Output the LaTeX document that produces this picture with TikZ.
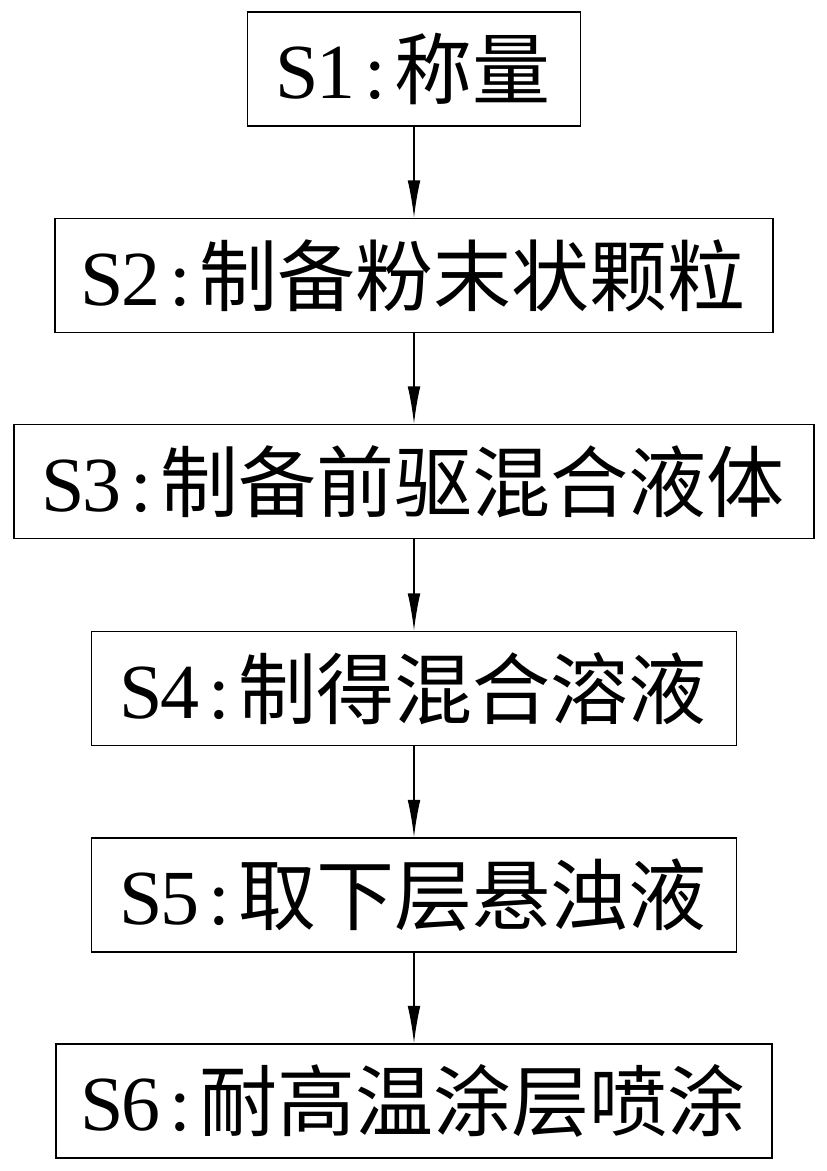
\documentclass[tikz,border=0pt]{standalone}
\usepackage{fontspec}
\setmainfont{Liberation Serif}
\newfontfamily\cjk{Noto Sans CJK SC}
\usetikzlibrary{arrows.meta}
\newcommand\stepno[1]{\makebox[.5em]{S}\makebox[.5em]{#1}\makebox[.5em]{:}}
\begin{document}
\begin{tikzpicture}[x=0.75pt,y=-0.75pt,->,>={Latex[length=28pt,width=9.5pt]},line width=1pt,
    stepbox/.style={draw,line width=1.1pt,minimum height=85.5pt,inner sep=0pt,
      font=\fontsize{58.5}{68}\selectfont}]
    \useasboundingbox (0,0) rectangle (827,1171);
    \node[stepbox,minimum width=249.75pt] (S1) at (414,69) {\stepno{1}{\cjk 称量}};
    \node[stepbox,minimum width=538.5pt] (S2) at (414,275.5) {\stepno{2}{\cjk 制备粉末状颗粒}};
    \node[stepbox,minimum width=600pt] (S3) at (414,481.5) {\stepno{3}{\cjk 制备前驱混合液体}};
    \node[stepbox,minimum width=483.75pt] (S4) at (414,688.5) {\stepno{4}{\cjk 制得混合溶液}};
    \node[stepbox,minimum width=483.75pt] (S5) at (414,895) {\stepno{5}{\cjk 取下层悬浊液}};
    \node[stepbox,minimum width=537pt] (S6) at (414,1101) {\stepno{6}{\cjk 耐高温涂层喷涂}};
    \draw (S1) -- (S2);
    \draw (S2) -- (S3);
    \draw (S3) -- (S4);
    \draw (S4) -- (S5);
    \draw (S5) -- (S6);
  \end{tikzpicture}
\end{document}
